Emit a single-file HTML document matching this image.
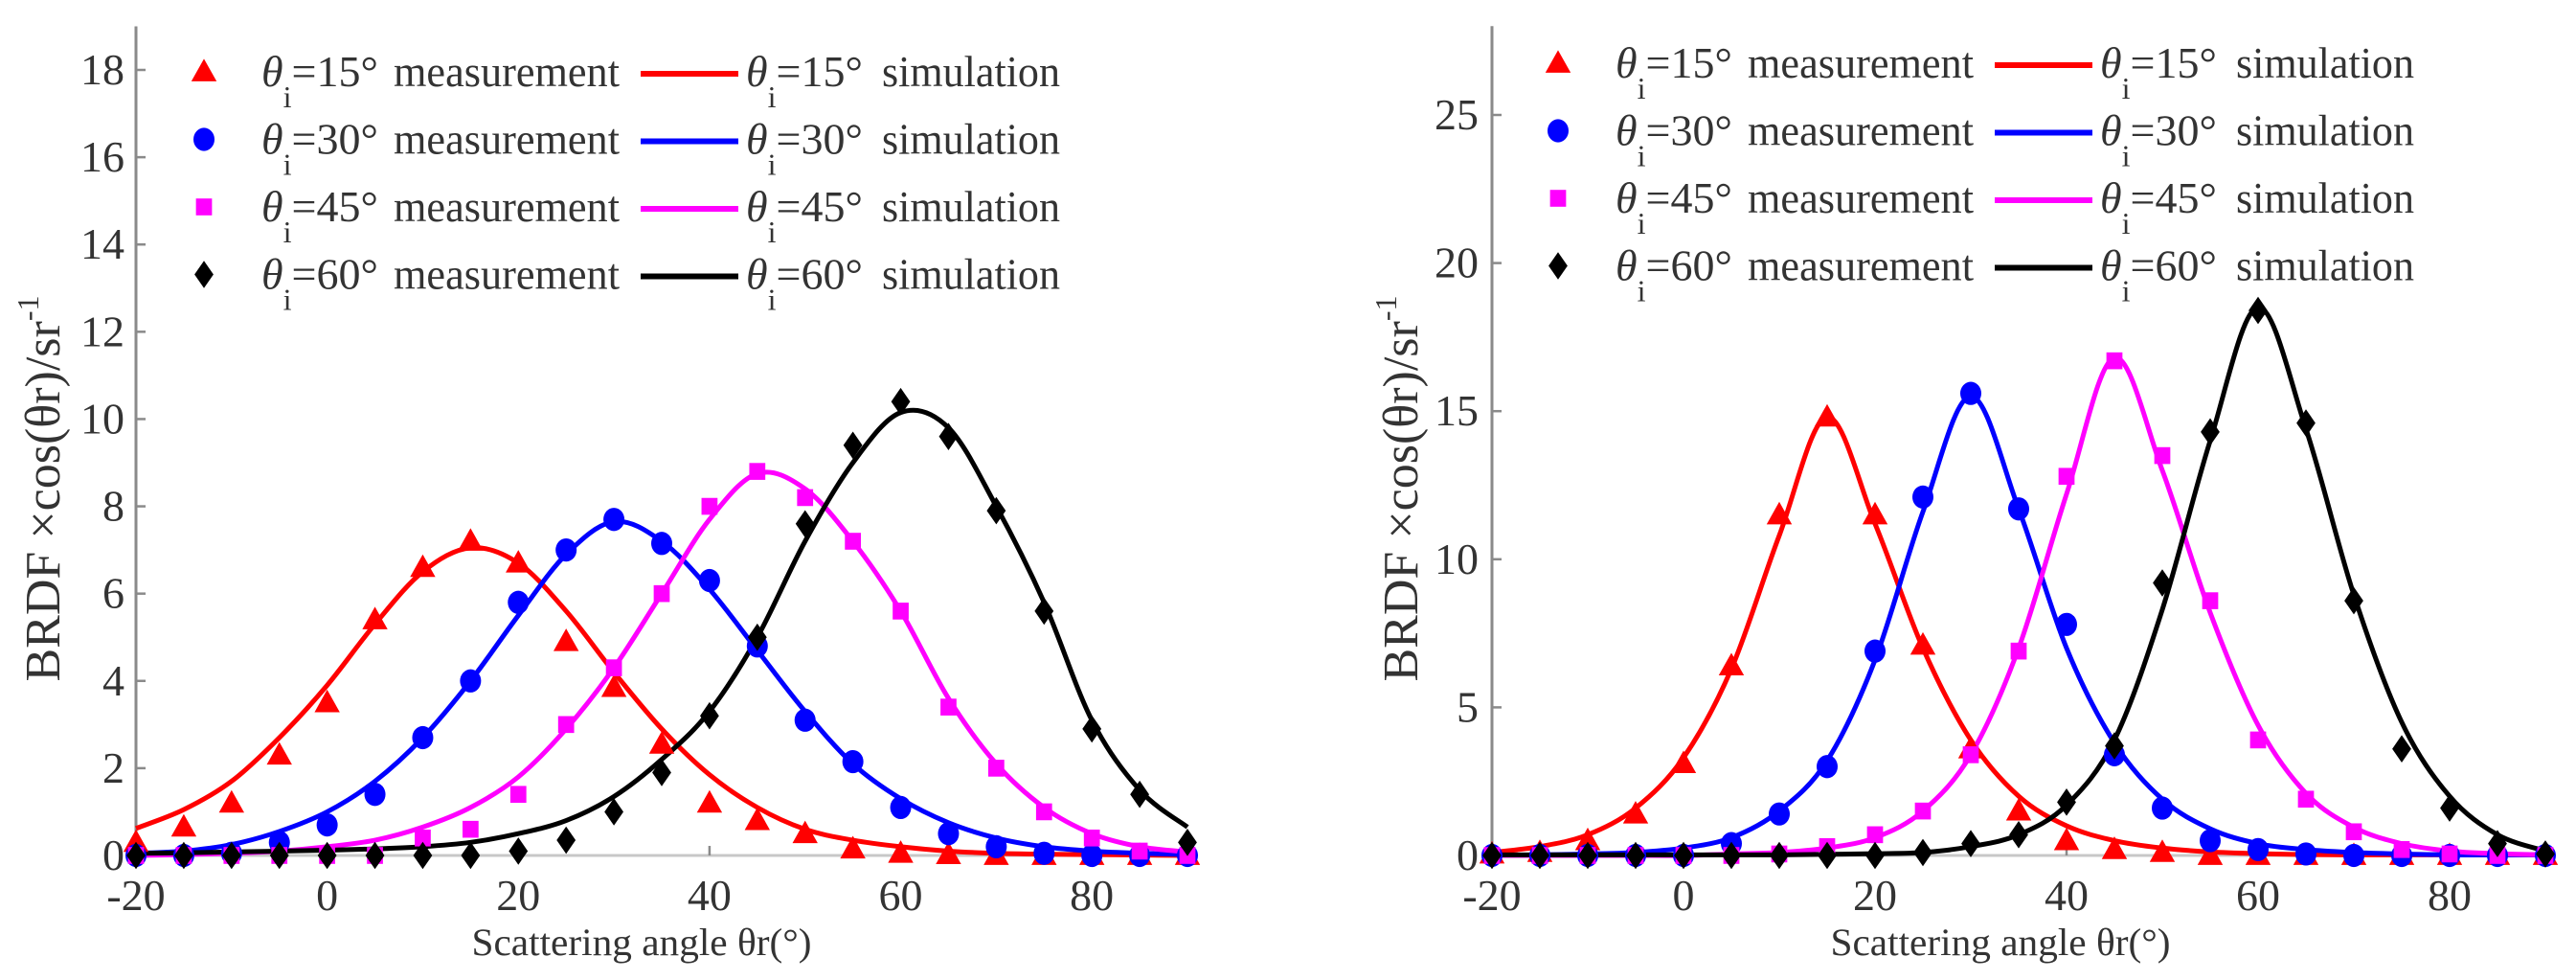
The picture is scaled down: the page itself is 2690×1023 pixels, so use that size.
<!DOCTYPE html>
<html><head><meta charset="utf-8">
<style>
html,body{margin:0;padding:0;background:#fff;}
svg{display:block;}
svg text{font-family:"Liberation Serif","Times New Roman","DejaVu Serif",serif;fill:#333;}
</style></head>
<body>
<svg id="chart" width="2690" height="1023" viewBox="0 0 2690 1023" xmlns="http://www.w3.org/2000/svg" font-family="Liberation Serif, Times New Roman, serif"></svg>
<script>
// ---- shared x categories ----
const angles = [-20,-15,-10,-5,0,5,10,15,20,25,30,35,40,45,50,55,60,65,70,75,80,85,90];
const xTicks = [-20,0,20,40,60,80];
const leftYTicks = [0,2,4,6,8,10,12,14,16,18];
const rightYTicks = [0,5,10,15,20,25];
const seriesNames = ["15","30","45","60"];

// ---- left panel measurement ----
const L_meas15 = [0.3,0.65,1.2,2.3,3.5,5.4,6.6,7.2,6.7,4.9,3.85,2.55,1.2,0.8,0.5,0.15,0.05,0.02,0,0,0,0,0];
const L_meas30 = [0,0,0.05,0.3,0.7,1.4,2.7,4.0,5.8,7.0,7.7,7.15,6.3,4.8,3.1,2.15,1.1,0.5,0.2,0.05,0,0,0];
const L_meas45 = [0,0,0,0,0,0,0.4,0.6,1.4,3.0,4.3,6.0,8.0,8.8,8.2,7.2,5.6,3.4,2.0,1.0,0.4,0.1,0];
const L_meas60 = [0,0,0,0,0,0,0,0,0.1,0.35,1.0,1.9,3.2,5.0,7.6,9.4,10.4,9.6,7.9,5.6,2.9,1.4,0.3];
// ---- left panel simulation ----
const L_sim15 = [0.62,1.05,1.7,2.7,3.9,5.3,6.5,7.05,6.7,5.6,4.2,2.9,1.85,1.1,0.6,0.35,0.2,0.1,0.05,0.03,0.02,0.01,0];
const L_sim30 = [0.05,0.1,0.25,0.55,1.0,1.7,2.7,4.0,5.5,6.9,7.65,7.2,6.1,4.7,3.3,2.1,1.3,0.75,0.4,0.2,0.1,0.05,0.02];
const L_sim45 = [0,0.02,0.05,0.1,0.2,0.35,0.65,1.1,1.8,2.9,4.3,6.0,7.7,8.75,8.4,7.2,5.6,3.6,2.1,1.1,0.5,0.2,0.08];
const L_sim60 = [0.05,0.06,0.08,0.1,0.12,0.15,0.2,0.3,0.5,0.8,1.35,2.2,3.3,5.0,7.2,9.0,10.15,9.8,8.0,5.8,3.1,1.5,0.65];
// ---- right panel measurement ----
const R_meas15 = [0.05,0.1,0.5,1.4,3.1,6.4,11.5,14.8,11.5,7.1,3.6,1.5,0.5,0.2,0.1,0,0,0,0,0,0,0,0];
const R_meas30 = [0,0,0,0,0,0.4,1.4,3.0,6.9,12.1,15.6,11.7,7.8,3.4,1.6,0.5,0.2,0.05,0,0,0,0,0];
const R_meas45 = [0,0,0,0,0,0,0.05,0.3,0.7,1.5,3.4,6.9,12.8,16.7,13.5,8.6,3.9,1.9,0.8,0.2,0.05,0,0];
const R_meas60 = [0,0,0,0,0,0,0,0,0,0.1,0.4,0.7,1.8,3.7,9.2,14.3,18.4,14.6,8.6,3.6,1.6,0.4,0.05];
// ---- right panel simulation ----
const R_sim15 = [0.1,0.3,0.7,1.6,3.3,6.3,10.8,14.8,11.2,7.0,3.9,2.0,1.0,0.5,0.25,0.12,0.06,0.03,0.02,0.02,0.02,0.02,0.02];
const R_sim30 = [0,0.02,0.05,0.1,0.25,0.6,1.5,3.2,6.6,11.6,15.5,11.7,7.0,3.8,1.9,0.9,0.4,0.2,0.1,0.05,0.02,0.02,0.02];
const R_sim45 = [0,0,0,0,0,0.05,0.1,0.25,0.6,1.5,3.4,7.0,12.2,16.8,13.0,8.2,4.4,2.1,0.95,0.4,0.15,0.06,0.02];
const R_sim60 = [0.02,0.02,0.02,0.02,0.02,0.02,0.02,0.04,0.06,0.1,0.3,0.7,1.7,3.9,8.3,14.0,18.5,14.4,8.8,4.5,2.0,0.7,0.15];

const NS = "http://www.w3.org/2000/svg";
const svg = document.getElementById('chart');
const colors = ["#ff0000","#0000ff","#ff00ff","#000000"];
const shapes = ["triangle","circle","square","diamond"];
const FONT = '"Liberation Serif","Times New Roman",serif';

function mk(tag, attrs, parent){
  const e = document.createElementNS(NS, tag);
  for (const k in attrs) e.setAttribute(k, attrs[k]);
  if (tag === 'text') e.setAttribute('font-family', FONT);
  (parent||svg).appendChild(e);
  return e;
}
function marker(g, shape, cx, cy, color, s){
  let e;
  if (shape==="triangle") e = mk('polygon',{points:`${cx},${cy-s*0.62} ${cx-s*0.6},${cy+s*0.45} ${cx+s*0.6},${cy+s*0.45}`,fill:color},g);
  else if (shape==="circle") e = mk('ellipse',{cx:cx,cy:cy,rx:s*0.5,ry:s*0.55,fill:color},g);
  else if (shape==="square") e = mk('rect',{x:cx-s*0.38,y:cy-s*0.4,width:s*0.76,height:s*0.8,fill:color},g);
  else e = mk('polygon',{points:`${cx},${cy-s*0.65} ${cx+s*0.45},${cy} ${cx},${cy+s*0.65} ${cx-s*0.45},${cy}`,fill:color},g);
  return e;
}
function smoothPath(pts){
  let d = `M${pts[0][0]},${pts[0][1]}`;
  for (let i=0;i<pts.length-1;i++){
    const p0=pts[Math.max(i-1,0)], p1=pts[i], p2=pts[i+1], p3=pts[Math.min(i+2,pts.length-1)];
    const c1x=p1[0]+(p2[0]-p0[0])/6, c1y=p1[1]+(p2[1]-p0[1])/6;
    const c2x=p2[0]-(p3[0]-p1[0])/6, c2y=p2[1]-(p3[1]-p1[1])/6;
    d += ` C${c1x},${c1y} ${c2x},${c2y} ${p2[0]},${p2[1]}`;
  }
  return d;
}

function panel(cfg){
  const {name, x0, x1, yTop, yMax, ticks, meas, sims, labelRight, legX, legY, titleX, xTitleX} = cfg;
  const yBase = 893;
  const sx = v => x0 + (v - (-20)) * (x1 - x0) / 110;
  const sy = v => yBase - v * (yBase - yTop) / yMax;
  const g = mk('g',{});
  
  
  const base = mk('line',{x1:x0,y1:yBase,x2:x1,y2:yBase,stroke:'#c8c8c8','stroke-width':3},g);
  
  
  const ax = mk('line',{x1:x0,y1:sy(ticks.axisTop),x2:x0,y2:yBase,stroke:'#8a8a8a','stroke-width':3},g);
  
  
  ticks.list.forEach(t=>{
    const tk = mk('line',{x1:x0,y1:sy(t),x2:x0+10,y2:sy(t),stroke:'#8a8a8a','stroke-width':2.5},g);
    
    
    const tl = mk('text',{x:labelRight,y:sy(t)+15,'text-anchor':'end','font-size':46},g);
    tl.textContent = t;
    
    
  });
  xTicks.forEach(t=>{
    const tk = mk('line',{x1:sx(t),y1:yBase,x2:sx(t),y2:yBase-10,stroke:'#8a8a8a','stroke-width':2.5},g);
    
    
    const tl = mk('text',{x:sx(t),y:950,'text-anchor':'middle','font-size':46},g);
    tl.textContent = t;
    
    
  });
  const yt = mk('text',{x:titleX,y:510,'text-anchor':'middle','font-size':52,transform:`rotate(-90 ${titleX} 510)`,fill:'#111'},g);
  
  
  yt.innerHTML = 'BRDF ×cos(θr)/sr<tspan dy="-22" font-size="32">-1</tspan>';
  const xt = mk('text',{x:xTitleX,y:997,'text-anchor':'middle','font-size':40,fill:'#222',textLength:355,lengthAdjust:'spacingAndGlyphs'},g);
  xt.textContent = 'Scattering angle θr(°)';
  
  
  sims.forEach((arr,i)=>{
    const pts = angles.map((a,j)=>[sx(a), sy(arr[j])]);
    const p = mk('path',{d:smoothPath(pts),fill:'none',stroke:colors[i],'stroke-width':5,'stroke-linejoin':'round'},g);
    
    
  });
  meas.forEach((arr,i)=>{
    const mg = mk('g',{},g);
    
    
    angles.forEach((a,j)=>{
      const m = marker(mg, shapes[i], sx(a), sy(arr[j]), colors[i], 22);
      
      
    });
  });
  const lg = mk('g',{},g);
  
  
  seriesNames.forEach((s,i)=>{
    const y = legY + i*70.5;
    const e = mk('g',{},lg);
    
    
    marker(e, shapes[i], legX, y, colors[i], 22);
    const t1 = mk('text',{x:legX+60,y:y+15,'font-size':46,fill:'#222'},e);
    t1.innerHTML = `<tspan font-style="italic">θ</tspan><tspan dy="22" font-size="32">i</tspan><tspan dy="-22">=${s}°</tspan>`;
    const t2 = mk('text',{x:legX+198,y:y+15,'font-size':46,fill:'#222',textLength:236,lengthAdjust:'spacingAndGlyphs'},e);
    t2.textContent = 'measurement';
    mk('line',{x1:legX+456,y1:y+2,x2:legX+558,y2:y+2,stroke:colors[i],'stroke-width':6},e);
    const t3 = mk('text',{x:legX+566,y:y+15,'font-size':46,fill:'#222'},e);
    t3.innerHTML = `<tspan font-style="italic">θ</tspan><tspan dy="22" font-size="32">i</tspan><tspan dy="-22">=${s}°</tspan>`;
    const t4 = mk('text',{x:legX+708,y:y+15,'font-size':46,fill:'#222',textLength:186,lengthAdjust:'spacingAndGlyphs'},e);
    t4.textContent = 'simulation';
  });
}

panel({name:'left-panel', x0:142, x1:1240, yTop:73, yMax:18,
  ticks:{list:leftYTicks, axisTop:19}, meas:[L_meas15,L_meas30,L_meas45,L_meas60],
  sims:[L_sim15,L_sim30,L_sim45,L_sim60], labelRight:130, legX:213, legY:75, titleX:62, xTitleX:670});
panel({name:'right-panel', x0:1558, x1:2658, yTop:120, yMax:25,
  ticks:{list:rightYTicks, axisTop:28}, meas:[R_meas15,R_meas30,R_meas45,R_meas60],
  sims:[R_sim15,R_sim30,R_sim45,R_sim60], labelRight:1544, legX:1627, legY:66, titleX:1480, xTitleX:2089});
</script>
</body></html>
